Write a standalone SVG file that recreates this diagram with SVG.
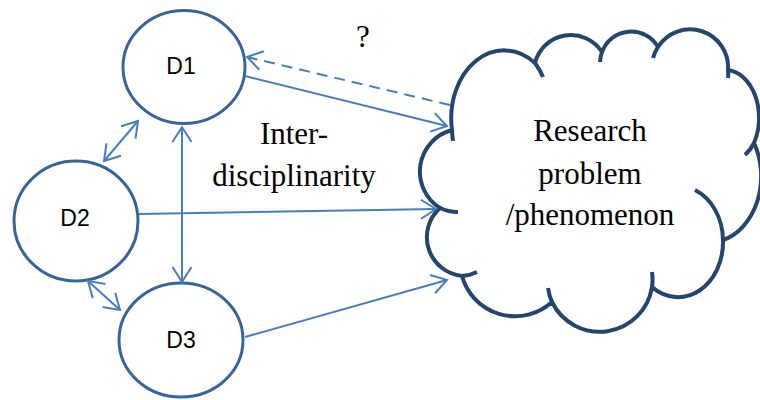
<svg xmlns="http://www.w3.org/2000/svg" width="760" height="400" viewBox="0 0 760 400">
<style>
.node{fill:#ffffff;stroke:#3b6496;stroke-width:3}
.cloud{fill:#ffffff;stroke:#26456b;stroke-width:4;stroke-linejoin:round}
.hook{fill:none;stroke:#26456b;stroke-width:4}
.lbl{font-family:"Liberation Sans",Arial,sans-serif;font-size:23px;fill:#000;text-anchor:middle}
.ser{font-family:"Liberation Serif","Times New Roman",serif;font-size:31px;fill:#000;text-anchor:middle}
.con{fill:none;stroke:#4a7ebb;stroke-width:2}
.dash{stroke-dasharray:11 7}
</style>
<defs>
<marker id="ah" markerUnits="userSpaceOnUse" markerWidth="22" markerHeight="24" refX="18" refY="11" orient="auto-start-reverse" overflow="visible">
<path d="M3,1.5 L18,11 L3,20.5" fill="none" stroke="#4a7ebb" stroke-width="2"/>
</marker>
</defs>

<g id="cloud">
<path class="cloud" d="M452,130 A53,68 0 0 1 535,63 A37,37 0 0 1 602,52 A31,31 0 0 1 658,47 A38,38 0 0 1 728,70 A34,48 0 0 1 754,143 A52,66 0 0 1 723,240 A45,55 0 0 1 652,287 A53,53 0 0 1 552,302 A55,55 0 0 1 462,276 A39,39 0 0 1 440,208 A43,43 0 0 1 452,130 Z"/>
<path class="hook" d="M453,141 A53,68 0 0 1 452,130 M535,63 A53,68 0 0 1 543,77 M600,62 A31,31 0 0 1 602,52 M653,58 A38,38 0 0 1 658,47 M728,70 A38,38 0 0 1 728,78 M754,143 A34,48 0 0 1 745,155 M695,190 A45,55 0 0 1 723,240 M652,272 A53,53 0 0 1 652,287 M552,302 A53,53 0 0 1 548,288 M477,272 A39,39 0 0 1 462,276 M458,212 A43,43 0 0 1 440,208"/>
<text class="ser" x="590" y="141">Research</text>
<text class="ser" x="590" y="184">problem</text>
<text class="ser" x="590" y="225">/phenomenon</text>
</g>

<g id="D1">
<ellipse class="node" cx="184" cy="67" rx="61" ry="56.5"/>
<text class="lbl" x="181" y="74">D1</text>
</g>
<g id="D2">
<ellipse class="node" cx="76" cy="221" rx="62" ry="60"/>
<text class="lbl" x="75" y="226">D2</text>
</g>
<g id="D3">
<ellipse class="node" cx="181" cy="340" rx="62" ry="57"/>
<text class="lbl" x="181" y="348">D3</text>
</g>

<g id="connectors">
<path class="con" d="M245,76 L447,126" marker-end="url(#ah)"/>
<path class="con dash" d="M450,105 L247,57" marker-end="url(#ah)"/>
<path class="con" d="M139,214 L436,209" marker-end="url(#ah)"/>
<path class="con" d="M245,337 L447,280" marker-end="url(#ah)"/>
<path class="con" d="M182,127 L182,282" marker-start="url(#ah)" marker-end="url(#ah)"/>
<path class="con" d="M104,161 L138,121" marker-start="url(#ah)" marker-end="url(#ah)"/>
<path class="con" d="M88,281 L120,310" marker-start="url(#ah)" marker-end="url(#ah)"/>
</g>

<g id="labels">
<text class="ser" x="363" y="47">?</text>
<text class="ser" x="294" y="144">Inter-</text>
<text class="ser" x="294" y="186">disciplinarity</text>
</g>
</svg>
